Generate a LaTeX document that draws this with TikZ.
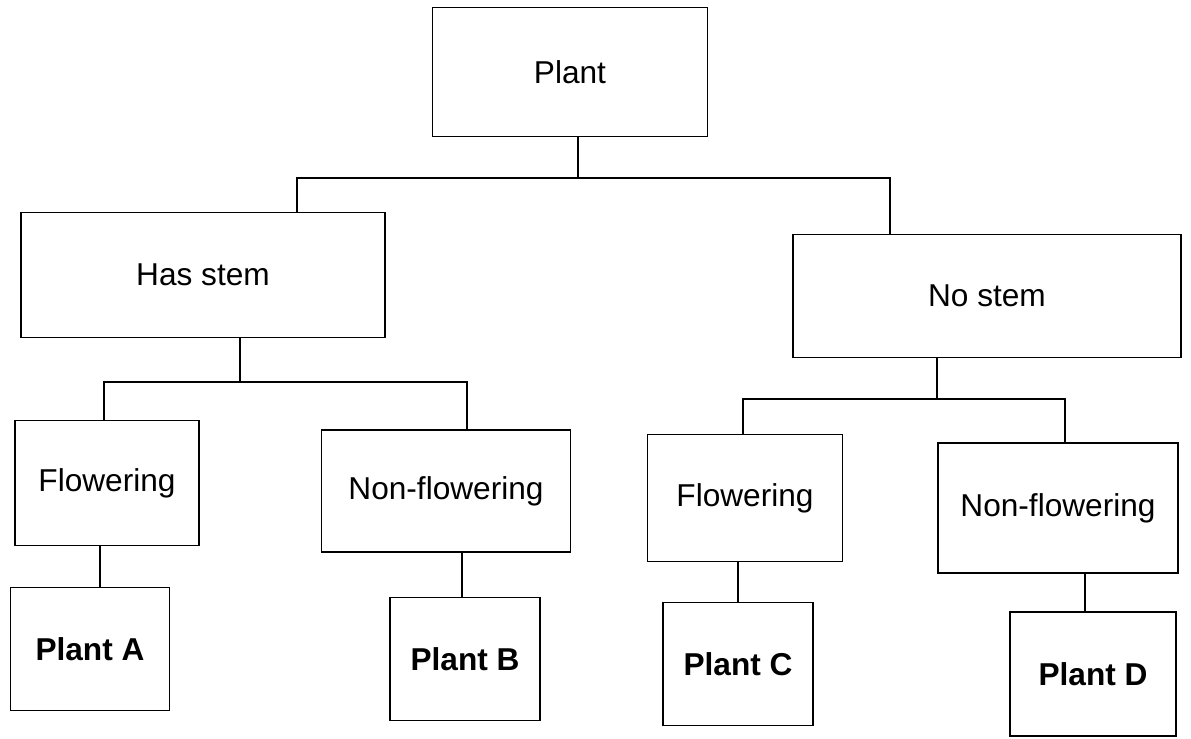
\documentclass[tikz,border=0pt]{standalone}
\usepackage{fontspec}
\setmainfont{Liberation Sans}

\begin{document}
\begin{tikzpicture}[x=0.02cm,y=-0.02cm,line width=1pt,
    box node/.style={draw,rectangle,inner sep=0pt,font=\fontsize{18pt}{20pt}\selectfont},
    leaf node/.style={box node,font=\fontsize{18pt}{20pt}\selectfont\bfseries}]
            \useasboundingbox (0,0) rectangle (1191,739);

            \node[box node,minimum width=5.5cm,minimum height=2.58cm] (plant) at (570,72) {Plant};
            \node[box node,minimum width=7.28cm,minimum height=2.5cm] (hasstem) at (203,275) {Has stem};
            \node[box node,minimum width=7.76cm,minimum height=2.46cm] (nostem) at (987,296) {No stem};
            \node[box node,minimum width=3.68cm,minimum height=2.5cm] (flowl) at (107,483) {Flowering};
            \node[box node,minimum width=4.98cm,minimum height=2.44cm] (nonflowl) at (446,491) {Non-flowering};
            \node[box node,minimum width=3.9cm,minimum height=2.54cm] (flowr) at (745,498) {Flowering};
            \node[box node,minimum width=4.8cm,minimum height=2.6cm] (nonflowr) at (1058,508) {Non-flowering};
            \node[leaf node,minimum width=3.18cm,minimum height=2.46cm] (planta) at (90,649) {Plant A};
            \node[leaf node,minimum width=3cm,minimum height=2.46cm] (plantb) at (465,659) {Plant B};
            \node[leaf node,minimum width=3cm,minimum height=2.46cm] (plantc) at (738,664) {Plant C};
            \node[leaf node,minimum width=3.32cm,minimum height=2.48cm] (plantd) at (1093,674) {Plant D};

            % junctions of the branches
            \coordinate (j0) at (578,178);
            \coordinate (l0) at (297,178);
            \coordinate (r0) at (890,178);
            \coordinate (j1) at (240,382);
            \coordinate (l1) at (104,382);
            \coordinate (r1) at (467,382);
            \coordinate (j2) at (937,399);
            \coordinate (l2) at (743,399);
            \coordinate (r2) at (1065,399);

            \path[draw]
                (plant.south -| j0) -- (j0)
                (hasstem.north -| l0) -- (l0) -- (r0) -- (nostem.north -| r0)
                (hasstem.south -| j1) -- (j1)
                (flowl.north -| l1) -- (l1) -- (r1) -- (nonflowl.north -| r1)
                (nostem.south -| j2) -- (j2)
                (flowr.north -| l2) -- (l2) -- (r2) -- (nonflowr.north -| r2)
                (flowl.south -| 100,0) -- (planta.north -| 100,0)
                (nonflowl.south -| 462,0) -- (plantb.north -| 462,0)
                (flowr.south -| 738,0) -- (plantc.north -| 738,0)
                (nonflowr.south -| 1085,0) -- (plantd.north -| 1085,0)
                ;
        \end{tikzpicture}
\end{document}
